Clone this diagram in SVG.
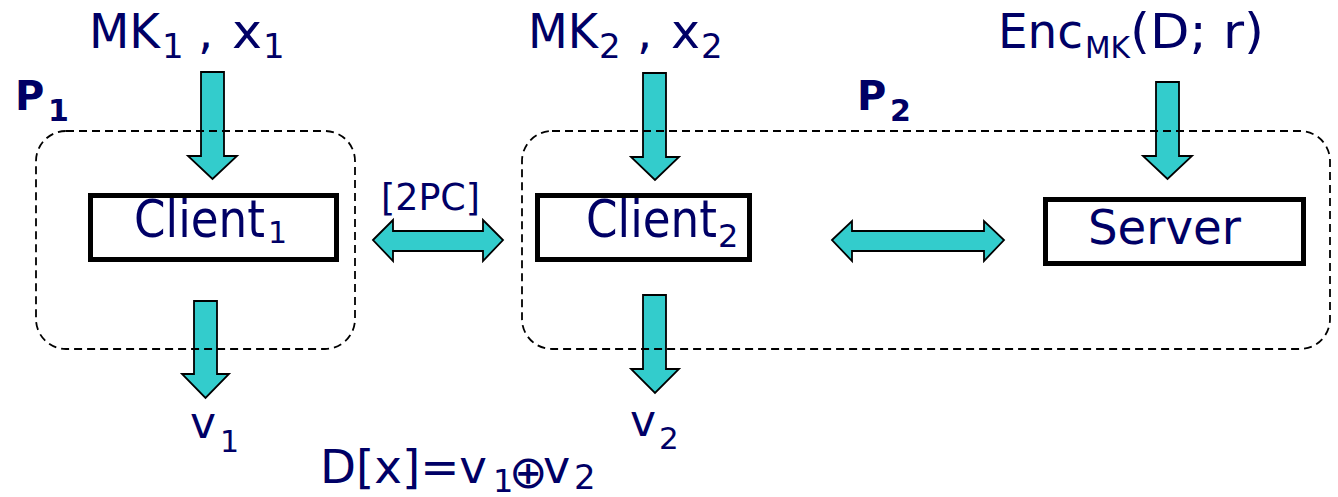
<svg xmlns="http://www.w3.org/2000/svg" width="1338" height="497" viewBox="0 0 1338 497">
  <style>
    .t { font-family: "DejaVu Sans", Verdana, sans-serif; fill: #000066; }
    .b { font-weight: bold; }
    .box { fill: #ffffff; stroke: #000000; stroke-width: 5; }
    .arrow { fill: #33cccc; stroke: #000000; stroke-width: 1.8; stroke-linejoin: miter; }
    .party { fill: none; stroke: #000000; stroke-width: 1.8; stroke-dasharray: 8 5; }
  </style>

  <rect width="1338" height="497" fill="#ffffff"/>

  <!-- connectors: block arrows -->
  <g id="connectors">
    <polygon class="arrow" points="201,72 224,72 224,156 237,156 212.5,179 188,156 201,156"/>
    <polygon class="arrow" points="643,73 666,73 666,157 679,157 655,180 631,157 643,157"/>
    <polygon class="arrow" points="1156,82 1179,82 1179,156 1192,156 1167.5,179 1143,156 1156,156"/>
    <polygon class="arrow" points="194,301 217,301 217,374 229,374 205.5,398 182,374 194,374"/>
    <polygon class="arrow" points="643,295 666,295 666,369 679,369 655,393 631,369 643,369"/>
    <polygon class="arrow" points="373,240 393,220 393,231 483,231 483,220 503,240 483,261 483,251 393,251 393,261"/>
    <polygon class="arrow" points="832,240 852,221 852,231 984,231 984,221 1004,240 984,261 984,251 852,251 852,261"/>
  </g>

  <!-- party boundaries -->
  <g id="party1">
    <rect class="party" x="36" y="131" width="319" height="218" rx="30" ry="30"/>
    <text class="t b" x="15" y="110" font-size="40">P</text>
    <text class="t b" x="48" y="121" font-size="30">1</text>
  </g>
  <g id="party2">
    <rect class="party" x="522" y="131" width="808" height="218" rx="30" ry="30"/>
    <text class="t b" x="857" y="110" font-size="40">P</text>
    <text class="t b" x="890" y="121" font-size="30">2</text>
  </g>

  <!-- nodes -->
  <g id="client1">
    <rect class="box" x="90.5" y="195.5" width="246" height="64"/>
    <text class="t" x="134" y="237" font-size="51" textLength="131" lengthAdjust="spacingAndGlyphs">Client</text>
    <text class="t" x="268" y="243" font-size="30">1</text>
  </g>
  <g id="client2">
    <rect class="box" x="537.5" y="195.5" width="212" height="64"/>
    <text class="t" x="586" y="237" font-size="51" textLength="131" lengthAdjust="spacingAndGlyphs">Client</text>
    <text class="t" x="718" y="247" font-size="32">2</text>
  </g>
  <g id="server">
    <rect class="box" x="1045.5" y="199.5" width="258" height="64"/>
    <text class="t" x="1088" y="244" font-size="48" textLength="153" lengthAdjust="spacingAndGlyphs">Server</text>
  </g>

  <!-- inputs -->
  <g id="input1">
    <text class="t" x="89" y="48" font-size="48" textLength="71" lengthAdjust="spacingAndGlyphs">MK</text>
    <text class="t" x="162" y="58" font-size="34">1</text>
    <text class="t" x="198" y="48" font-size="48">,</text>
    <text class="t" x="232" y="48" font-size="48" textLength="30" lengthAdjust="spacingAndGlyphs">x</text>
    <text class="t" x="263" y="58" font-size="34">1</text>
  </g>
  <g id="input2">
    <text class="t" x="528" y="48" font-size="48" textLength="70" lengthAdjust="spacingAndGlyphs">MK</text>
    <text class="t" x="599" y="58" font-size="34">2</text>
    <text class="t" x="637" y="48" font-size="48">,</text>
    <text class="t" x="671" y="48" font-size="48" textLength="29" lengthAdjust="spacingAndGlyphs">x</text>
    <text class="t" x="701" y="58" font-size="34">2</text>
  </g>
  <g id="input3">
    <text class="t" x="998" y="48" font-size="48" textLength="85" lengthAdjust="spacingAndGlyphs">Enc</text>
    <text class="t" x="1085" y="58" font-size="31" textLength="45" lengthAdjust="spacingAndGlyphs">MK</text>
    <text class="t" x="1130" y="48" font-size="48" textLength="134" lengthAdjust="spacingAndGlyphs">(D; r)</text>
  </g>

  <!-- protocol label -->
  <g id="label-2pc">
    <text class="t" x="381" y="210" font-size="38" textLength="99" lengthAdjust="spacingAndGlyphs">[2PC]</text>
  </g>

  <!-- outputs -->
  <g id="output1">
    <text class="t" x="190" y="438" font-size="44">v</text>
    <text class="t" x="220" y="452" font-size="30">1</text>
  </g>
  <g id="output2">
    <text class="t" x="630" y="436" font-size="44">v</text>
    <text class="t" x="659" y="449" font-size="31">2</text>
  </g>
  <g id="result">
    <text class="t" x="320" y="483" font-size="46" textLength="167" lengthAdjust="spacingAndGlyphs">D[x]=v</text>
    <text class="t" x="493" y="492" font-size="32">1</text>
    <text class="t" x="509" y="488" font-size="46">⊕</text>
    <text class="t" x="543" y="483" font-size="46">v</text>
    <text class="t" x="574" y="489" font-size="34">2</text>
  </g>
</svg>
